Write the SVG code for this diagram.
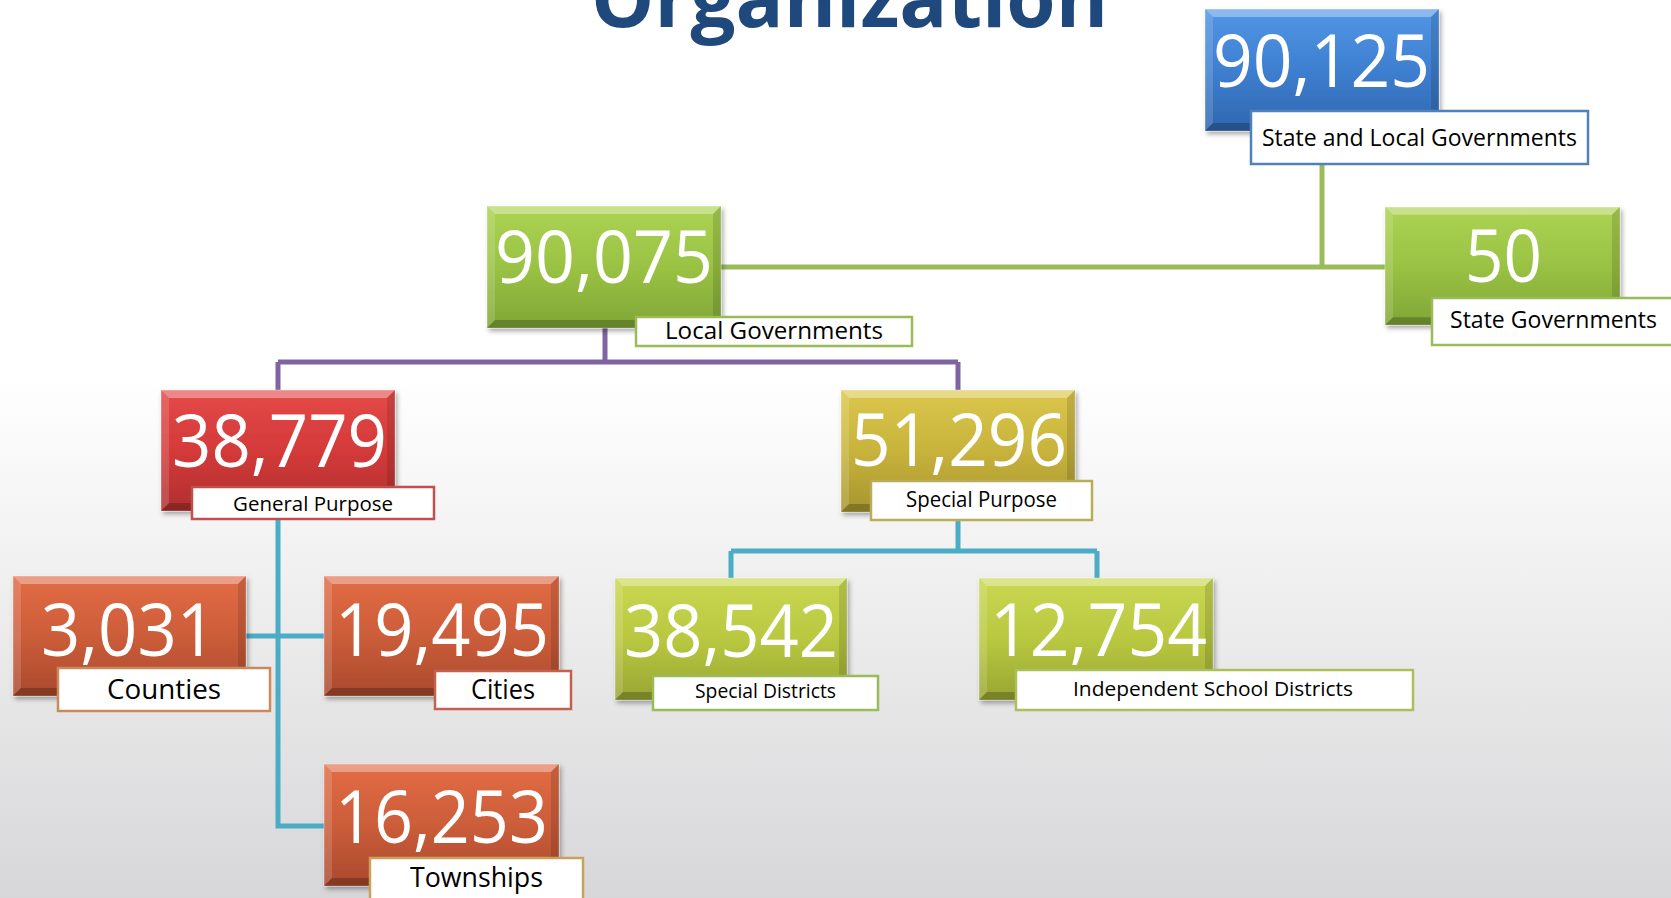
<svg xmlns="http://www.w3.org/2000/svg" xmlns:xlink="http://www.w3.org/1999/xlink" width="1671" height="898" viewBox="0 0 1671 898">
<defs>
<linearGradient id="bg" x1="0" y1="0" x2="0" y2="1">
<stop offset="0" stop-color="#ffffff"/><stop offset="0.42" stop-color="#ffffff"/><stop offset="1" stop-color="#d7d7d9"/>
</linearGradient>
<linearGradient id="gBlue" x1="0" y1="0" x2="0" y2="1"><stop offset="0" stop-color="#5296e6"/><stop offset="0.5" stop-color="#3e7fd0"/><stop offset="1" stop-color="#2f66ae"/></linearGradient>
<linearGradient id="gGreen" x1="0" y1="0" x2="0" y2="1"><stop offset="0" stop-color="#acd354"/><stop offset="0.5" stop-color="#9ac243"/><stop offset="1" stop-color="#80a636"/></linearGradient>
<linearGradient id="gRed" x1="0" y1="0" x2="0" y2="1"><stop offset="0" stop-color="#e44a48"/><stop offset="0.5" stop-color="#d43a3a"/><stop offset="1" stop-color="#b02f2e"/></linearGradient>
<linearGradient id="gOlive" x1="0" y1="0" x2="0" y2="1"><stop offset="0" stop-color="#dcc74c"/><stop offset="0.5" stop-color="#c8b33c"/><stop offset="1" stop-color="#a6952e"/></linearGradient>
<linearGradient id="gOrange" x1="0" y1="0" x2="0" y2="1"><stop offset="0" stop-color="#e26c45"/><stop offset="0.5" stop-color="#cc5d3a"/><stop offset="1" stop-color="#a9492d"/></linearGradient>
<linearGradient id="gLime" x1="0" y1="0" x2="0" y2="1"><stop offset="0" stop-color="#cad852"/><stop offset="0.5" stop-color="#b9c840"/><stop offset="1" stop-color="#98a532"/></linearGradient>
<filter id="sh" x="-10%" y="-10%" width="125%" height="130%">
<feDropShadow dx="2" dy="3" stdDeviation="2.5" flood-color="#000" flood-opacity="0.35"/>
</filter>
<symbol id="bevel" viewBox="0 0 234 121" preserveAspectRatio="none">
<polygon points="0,0 234,0 226,8 8,8" fill="#fff" fill-opacity="0.35"/>
<polygon points="0,0 8,8 8,113 0,121" fill="#fff" fill-opacity="0.15"/>
<polygon points="234,0 234,121 226,113 226,8" fill="#000" fill-opacity="0.12"/>
<polygon points="0,121 8,113 226,113 234,121" fill="#000" fill-opacity="0.22"/>
</symbol>
</defs>
<style>
.box{filter:url(#sh);stroke:#ffffff;stroke-opacity:0.35;stroke-width:1}
.num{font-family:"Open Sans","Noto Sans",sans-serif;font-size:74px;fill:#ffffff;}
.lbl{fill:#ffffff;stroke-width:2.5}
.lt{font-family:"Open Sans","Noto Sans",sans-serif;fill:#000000;}
.con{fill:none;stroke-width:5}
.title{font-family:"Open Sans","Liberation Sans",sans-serif;font-weight:bold;font-size:80px;fill:#1f497d}
</style>
<rect x="0" y="0" width="1671" height="898" fill="url(#bg)"/>
<text class="title" x="591" y="27" textLength="517" lengthAdjust="spacingAndGlyphs">Organization</text>

<g id="connectors">
<path class="con" stroke="#9bbb59" d="M1322,164 V267 M721,267 H1385"/>
<path class="con" stroke="#8064a2" d="M605,328 V362 M278,362 H958 M278,362 V390 M958,362 V390"/>
<path class="con" stroke="#4bacc6" d="M958,520 V551 M731,551 H1097 M731,551 V578 M1097,551 V578"/>
<path class="con" stroke="#4bacc6" d="M278,519 V826 H324 M246,636 H324"/>
</g>

<g id="n-state-local">
<rect class="box" x="1205" y="9" width="234" height="122" fill="url(#gBlue)"/>
<use href="#bevel" x="1205" y="9" width="234" height="122"/>
<text class="num" x="1213" y="87" textLength="217" lengthAdjust="spacingAndGlyphs">90,125</text>
<rect class="lbl" x="1251" y="111" width="337" height="53" stroke="#4f81bd"/>
<text class="lt" x="1262" y="146" font-size="24" textLength="315" lengthAdjust="spacingAndGlyphs">State and Local Governments</text>
</g>

<g id="n-local">
<rect class="box" x="487" y="206" width="234" height="122" fill="url(#gGreen)"/>
<use href="#bevel" x="487" y="206" width="234" height="122"/>
<text class="num" x="495" y="283" textLength="218" lengthAdjust="spacingAndGlyphs">90,075</text>
<rect class="lbl" x="636" y="317" width="276" height="29" stroke="#9bbb59"/>
<text class="lt" x="665" y="339" font-size="24" textLength="218" lengthAdjust="spacingAndGlyphs">Local Governments</text>
</g>

<g id="n-state">
<rect class="box" x="1385" y="207" width="235" height="118" fill="url(#gGreen)"/>
<use href="#bevel" x="1385" y="207" width="235" height="118"/>
<text class="num" x="1465" y="282" textLength="77" lengthAdjust="spacingAndGlyphs">50</text>
<rect class="lbl" x="1432" y="298" width="245" height="47" stroke="#9bbb59"/>
<text class="lt" x="1450" y="328" font-size="24" textLength="207" lengthAdjust="spacingAndGlyphs">State Governments</text>
</g>

<g id="n-general">
<rect class="box" x="161" y="390" width="234" height="121" fill="url(#gRed)"/>
<use href="#bevel" x="161" y="390" width="234" height="121"/>
<text class="num" x="172" y="467" textLength="215" lengthAdjust="spacingAndGlyphs">38,779</text>
<rect class="lbl" x="192" y="487" width="242" height="32" stroke="#c0504d"/>
<text class="lt" x="233" y="511" font-size="20" textLength="160" lengthAdjust="spacingAndGlyphs">General Purpose</text>
</g>

<g id="n-special">
<rect class="box" x="841" y="390" width="234" height="122" fill="url(#gOlive)"/>
<use href="#bevel" x="841" y="390" width="234" height="122"/>
<text class="num" x="851" y="466" textLength="216" lengthAdjust="spacingAndGlyphs">51,296</text>
<rect class="lbl" x="871" y="481" width="221" height="39" stroke="#b9ad5c"/>
<text class="lt" x="906" y="507" font-size="21" textLength="151" lengthAdjust="spacingAndGlyphs">Special Purpose</text>
</g>

<g id="n-counties">
<rect class="box" x="13" y="576" width="233" height="120" fill="url(#gOrange)"/>
<use href="#bevel" x="13" y="576" width="233" height="120"/>
<text class="num" x="41" y="656" textLength="175" lengthAdjust="spacingAndGlyphs">3,031</text>
<rect class="lbl" x="58" y="668" width="212" height="43" stroke="#cc8a5c"/>
<text class="lt" x="107" y="699" font-size="27" textLength="114" lengthAdjust="spacingAndGlyphs">Counties</text>
</g>

<g id="n-cities">
<rect class="box" x="324" y="576" width="235" height="120" fill="url(#gOrange)"/>
<use href="#bevel" x="324" y="576" width="235" height="120"/>
<text class="num" x="335" y="656" textLength="214" lengthAdjust="spacingAndGlyphs">19,495</text>
<rect class="lbl" x="435" y="671" width="136" height="38" stroke="#c4614e"/>
<text class="lt" x="471" y="699" font-size="27" textLength="64" lengthAdjust="spacingAndGlyphs">Cities</text>
</g>

<g id="n-townships">
<rect class="box" x="324" y="764" width="235" height="122" fill="url(#gOrange)"/>
<use href="#bevel" x="324" y="764" width="235" height="122"/>
<text class="num" x="335" y="843" textLength="213" lengthAdjust="spacingAndGlyphs">16,253</text>
<rect class="lbl" x="370" y="858" width="213" height="46" stroke="#c9a15c"/>
<text class="lt" x="410" y="887" font-size="27" textLength="133" lengthAdjust="spacingAndGlyphs">Townships</text>
</g>

<g id="n-special-districts">
<rect class="box" x="615" y="578" width="232" height="122" fill="url(#gLime)"/>
<use href="#bevel" x="615" y="578" width="232" height="122"/>
<text class="num" x="624" y="657" textLength="214" lengthAdjust="spacingAndGlyphs">38,542</text>
<rect class="lbl" x="653" y="676" width="225" height="34" stroke="#9bbb59"/>
<text class="lt" x="695" y="698" font-size="20" textLength="141" lengthAdjust="spacingAndGlyphs">Special Districts</text>
</g>

<g id="n-school">
<rect class="box" x="979" y="578" width="234" height="122" fill="url(#gLime)"/>
<use href="#bevel" x="979" y="578" width="234" height="122"/>
<text class="num" x="990" y="656" textLength="217" lengthAdjust="spacingAndGlyphs">12,754</text>
<rect class="lbl" x="1016" y="670" width="397" height="40" stroke="#abc05a"/>
<text class="lt" x="1073" y="696" font-size="20" textLength="280" lengthAdjust="spacingAndGlyphs">Independent School Districts</text>
</g>
</svg>
